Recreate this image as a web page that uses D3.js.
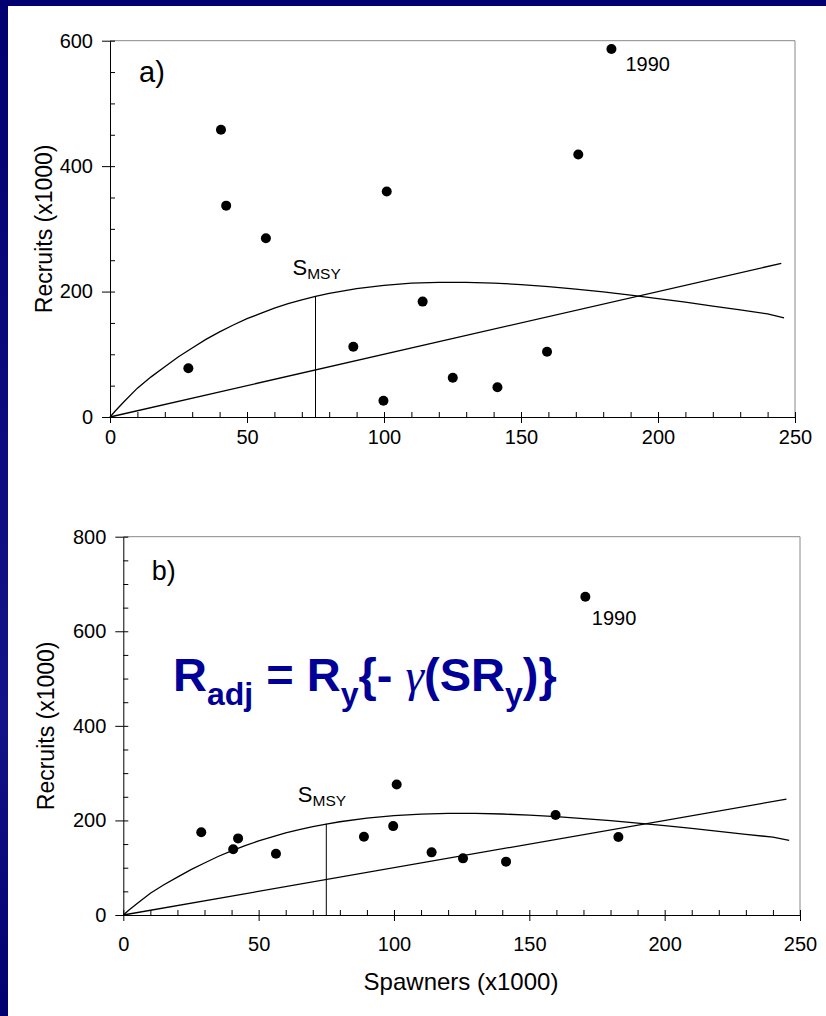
<html><head>
<title>Spawners and recruits</title>
<script src="https://d3js.org/d3.v7.min.js"></script>
<style>
  body { margin: 0; background: #fff; }
  svg text { font-family: "Liberation Sans", Arial, sans-serif; fill: #000; }
  .frame { fill: none; stroke: #888; stroke-width: 1px; }
  .axis path, .axis line { stroke: #000; stroke-width: 1px; }
  .axis text { font-size: 20px; }
  .curve { fill: none; stroke: #000; stroke-width: 1.3px; }
  .formula { font-weight: bold; fill: #000099 !important; }
</style>
</head>
<body>
<svg id="chart" width="826" height="1016"></svg>
<script>

// data
const spawnersA = [28.6, 40.5, 42.4, 56.9, 88.8, 99.8, 101, 114.1, 125.1, 141.4, 159.5, 170.9, 183];
const recruitsA = [77.7, 458, 337, 285, 112, 26, 359.5, 184, 62.7, 47.3, 104, 418.5, 586.7];
const spawnersB = [28.8, 40.6, 42.4, 56.4, 88.9, 99.7, 101, 113.9, 125.5, 141.4, 159.7, 170.7, 182.9];
const recruitsB = [174.9, 138.9, 162, 129.7, 165.6, 188, 276, 132.5, 119.8, 112.8, 211.5, 673, 165];

// fitted stock-recruit curve (same in both panels)
const curveS = [0, 2, 5, 10, 15, 20, 25, 30, 35, 40, 45, 50, 55, 60, 65, 70, 75, 80, 90, 100, 110, 120, 130, 140, 150, 160, 170, 180, 190, 200, 210, 220, 230, 240, 246];
const curveR = [0, 10, 24, 46, 64, 80, 96, 110, 123.7, 135.8, 146.7, 156.7, 165.3, 173.6, 180.6, 186.9, 192.4, 197.2, 204.8, 210, 213.3, 214.8, 214.8, 213.6, 211.2, 207.9, 204, 199.4, 194.3, 188.8, 183, 176.9, 170.7, 164.5, 158];

// replacement line and S_MSY
const lineS = [0, 245];
const lineR = [0, 245];
const sMsy = 75;
const sMsyR = 193;

const xTicks = [0, 50, 100, 150, 200, 250];
const yTicksA = [0, 200, 400, 600];
const yTicksB = [0, 200, 400, 600, 800];

const svg = d3.select("#chart");

// navy slide border, top and left
const grad = svg.append("defs").append("linearGradient")
  .attr("id", "navy").attr("x1", 0).attr("y1", 0).attr("x2", 0).attr("y2", 1);
grad.append("stop").attr("offset", "0%").attr("stop-color", "#000070");
grad.append("stop").attr("offset", "70%").attr("stop-color", "#14148a");
grad.append("stop").attr("offset", "100%").attr("stop-color", "#000070");
svg.append("rect").attr("x", 0).attr("y", 0).attr("width", 826).attr("height", 6).attr("fill", "#000070");
svg.append("rect").attr("x", 0).attr("y", 0).attr("width", 8).attr("height", 1016).attr("fill", "url(#navy)");

function drawPanel(p) {
  const x = d3.scaleLinear().domain([0, 250]).range([p.left, p.right]);
  const y = d3.scaleLinear().domain([0, p.yMax]).range([p.bottom, p.top]);
  const g = svg.append("g");

  // gray frame top + right
  g.append("path").attr("class", "frame")
    .attr("d", "M" + p.left + "," + p.top + "H" + p.right + "V" + p.bottom);

  // inward minor ticks
  g.append("g").attr("class", "axis")
    .attr("transform", "translate(0," + p.bottom + ")")
    .call(d3.axisBottom(x).tickValues(d3.range(0, 251, 10)).tickSize(-5).tickFormat(""))
    .select(".domain").remove();
  g.append("g").attr("class", "axis")
    .attr("transform", "translate(" + p.left + ",0)")
    .call(d3.axisLeft(y).tickValues(d3.range(0, p.yMax + 1, 50)).tickSize(-5).tickFormat(""))
    .select(".domain").remove();

  // major ticks with labels
  g.append("g").attr("class", "axis")
    .attr("transform", "translate(0," + p.bottom + ")")
    .call(d3.axisBottom(x).tickValues(xTicks).tickSize(6).tickSizeOuter(0).tickPadding(p.xPad));
  g.append("g").attr("class", "axis")
    .attr("transform", "translate(" + p.left + ",0)")
    .call(d3.axisLeft(y).tickValues(p.yTicks).tickSize(8).tickSizeOuter(0).tickPadding(9));

  const line = d3.line().x(d => x(d[0])).y(d => y(d[1]));
  g.append("path").attr("class", "curve").attr("d", line(d3.zip(curveS, curveR)));
  g.append("path").attr("class", "curve").attr("d", line(d3.zip(lineS, lineR)));
  g.append("path").attr("class", "curve").style("stroke-width", "1px")
    .attr("d", line([[sMsy, 0], [sMsy, sMsyR]]));

  g.selectAll("circle").data(d3.zip(p.xs, p.ys)).enter().append("circle")
    .attr("cx", d => x(d[0])).attr("cy", d => y(d[1])).attr("r", 5).attr("fill", "#000");

  // 1990 point label
  const big = d3.greatestIndex(p.ys);
  g.append("text").attr("x", x(p.xs[big]) + p.yrDx).attr("y", y(p.ys[big]) + p.yrDy)
    .style("font-size", "20px").text("1990");

  // S_MSY label
  const sm = g.append("text").attr("x", x(sMsy) + p.smDx).attr("y", y(sMsyR) + p.smDy)
    .style("font-size", "22px");
  sm.append("tspan").text("S");
  sm.append("tspan").attr("dy", 4).style("font-size", "15.5px").text("MSY");

  g.append("text").attr("x", p.left + p.tagDx).attr("y", p.top + p.tagDy)
    .style("font-size", p.tagSize + "px").text(p.tag);

  g.append("text").attr("transform", "translate(" + p.titleX + "," + (p.top + p.bottom) / 2 + ") rotate(-90)")
    .attr("text-anchor", "middle").style("font-size", "23px").text("Recruits (x1000)");

  return { x: x, y: y };
}

drawPanel({ left: 110, right: 795, top: 40.7, bottom: 417, yMax: 600, yTicks: yTicksA,
  xs: spawnersA, ys: recruitsA, xPad: 7, yrDx: 14, yrDy: 22, smDx: -23, smDy: -21,
  tag: "a)", tagDx: 29, tagDy: 41, tagSize: 29, titleX: 52 });

drawPanel({ left: 123.3, right: 800, top: 536.7, bottom: 915, yMax: 800, yTicks: yTicksB,
  xs: spawnersB, ys: recruitsB, xPad: 15.5, yrDx: 6.5, yrDy: 28.5, smDx: -28.5, smDy: -21.5,
  tag: "b)", tagDx: 28.5, tagDy: 43.5, tagSize: 27, titleX: 53.5 });

svg.append("text").attr("x", 461).attr("y", 990).attr("text-anchor", "middle")
  .style("font-size", "24px").text("Spawners (x1000)");

// adjustment formula
const f = svg.append("text").attr("class", "formula").attr("x", 173).attr("y", 690.7)
  .style("font-size", "47px");
f.append("tspan").text("R");
f.append("tspan").attr("dy", 14).style("font-size", "32px").text("adj");
f.append("tspan").attr("dy", -14).text(" = R");
f.append("tspan").attr("dy", 14).style("font-size", "32px").text("y");
f.append("tspan").attr("dy", -14).text("{- ");
f.append("tspan").style("font-weight", "normal").style("font-family", "'Liberation Serif', serif")
  .style("font-style", "italic").text("\u03b3");
f.append("tspan").text("(SR");
f.append("tspan").attr("dy", 14).style("font-size", "32px").text("y");
f.append("tspan").attr("dy", -14).text(")}");

</script>
</body></html>
